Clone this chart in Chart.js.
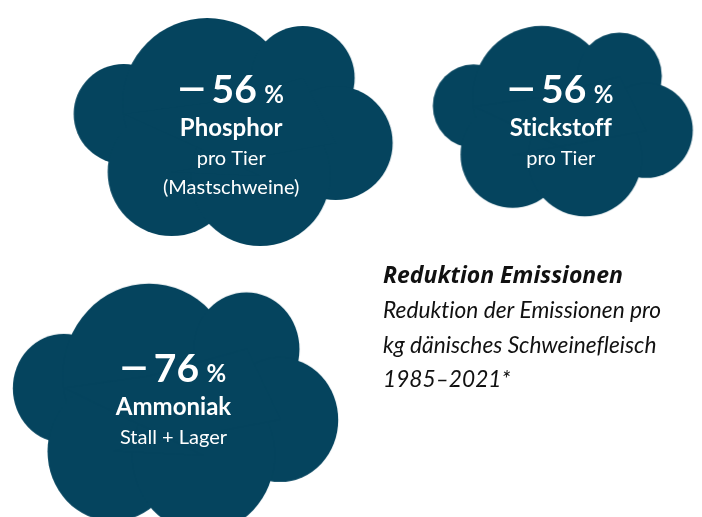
<!DOCTYPE html>
<html><head><meta charset="utf-8">
<script src="https://cdn.jsdelivr.net/npm/chart.js@4/dist/chart.umd.min.js"></script>
<style>html,body{margin:0;padding:0;background:#fff;overflow:hidden}#wrap{position:relative;width:702px;height:517px}</style>
</head><body><div id="wrap"><canvas id="c" width="702" height="517"></canvas></div>
<script>
// ---- data ----
const categories = ['Phosphor', 'Stickstoff', 'Ammoniak'];
const reductionPct = [-56, -56, -76];
const subLabels = [['pro Tier', '(Mastschweine)'], ['pro Tier'], ['Stall + Lager']];
const titleText = 'Reduktion Emissionen';
const noteLines = ['Reduktion der Emissionen pro', 'kg dänisches Schweinefleisch', '1985–2021*'];

// ---- layout (positions / sizes, not data) ----
const cloudX = [232.5, 564, 174.5];
const cloudY = [131, 120, 409];
const cloudScaleX = [1, 0.815, 1.02];
const cloudScaleY = [1, 0.835, 1.09];
const cloudColor = '#05445e';
const FONT = 'Lato, "Open Sans", sans-serif';

// cloud shape template: lobes [dx, dy, r] relative to the cloud centre
const cloudLobes = [[-109.5,-18,50],[-26,-29,85],[69.5,-54,52],[102.5,11,57],[-61.5,40,64],[27,44,70]];
function makeCloud(sx, sy) {
  const w = Math.ceil(324 * sx), h = Math.ceil(234 * sy);
  const cv = document.createElement('canvas');
  cv.width = w; cv.height = h;
  const g = cv.getContext('2d');
  g.fillStyle = cloudColor;
  g.translate(w / 2, h / 2);
  cloudLobes.forEach(([x, y, r]) => {
    g.beginPath(); g.ellipse(x * sx, y * sy, r * sx, r * sy, 0, 0, Math.PI * 2); g.fill();
  });
  g.beginPath();
  cloudLobes.forEach(([x, y], i) => { i ? g.lineTo(x * sx, y * sy) : g.moveTo(x * sx, y * sy); });
  g.closePath(); g.fill();
  return cv;
}
const cloudImgs = cloudScaleX.map((sx, i) => makeCloud(sx, cloudScaleY[i]));

function ink(ctx, s) {
  const m = ctx.measureText(s);
  return { l: m.actualBoundingBoxLeft, r: m.actualBoundingBoxRight, w: m.actualBoundingBoxLeft + m.actualBoundingBoxRight,
           a: m.actualBoundingBoxAscent, d: m.actualBoundingBoxDescent };
}

const labelPlugin = {
  id: 'cloudLabels',
  afterDatasetsDraw(chart) {
    const ctx = chart.ctx;
    const meta = chart.getDatasetMeta(0);
    ctx.save();
    try { ctx.letterSpacing = '0.01px'; } catch (e) {}
    ctx.fillStyle = '#ffffff';
    ctx.textBaseline = 'alphabetic';
    ctx.textAlign = 'left';
    const numFont = 'bold 39px ' + FONT, pctFont = 'bold 24px ' + FONT;
    meta.data.forEach((pt, i) => {
      const cx = pt.x - 2;
      const n = subLabels[i].length;
      const yNum = pt.y - 18 - (n - 1) * 11 - (i === 2 ? 8 : 0);
      const v = reductionPct[i];
      const sign = v < 0 ? '\u2212' : '+';
      const digits = String(Math.abs(v));
      const sx = 1.35;
      ctx.font = numFont;
      const iS = ink(ctx, sign), iD = ink(ctx, digits);
      ctx.font = pctFont;
      const iP = ink(ctx, '%');
      const g1 = 9, g2 = 8;
      const total = iS.w * sx + g1 + iD.w + g2 + iP.w;
      let x = cx - total / 2;
      ctx.font = numFont;
      const midS = (iS.a - iS.d) / 2;
      ctx.save(); ctx.translate(x, yNum - 14 + midS); ctx.scale(sx, 1); ctx.fillText(sign, iS.l, 0); ctx.restore();
      x += iS.w * sx + g1;
      ctx.fillText(digits, x + iD.l, yNum);
      x += iD.w + g2;
      ctx.font = pctFont;
      ctx.fillText('%', x + iP.l, yNum);
      ctx.textAlign = 'center';
      ctx.font = 'bold 24px ' + FONT;
      ctx.fillText(categories[i], cx, yNum + 33);
      ctx.font = '20px ' + FONT;
      subLabels[i].forEach((s, j) => ctx.fillText(s, cx, yNum + 62 + j * 29));
      ctx.textAlign = 'left';
    });
    // caption
    ctx.fillStyle = '#111111';
    ctx.textAlign = 'left';
    ctx.font = 'italic bold 23px "Open Sans", Lato, sans-serif';
    ctx.fillText(titleText, 383, 283);
    ctx.font = 'italic 22.7px ' + FONT;
    noteLines.forEach((s, j) => ctx.fillText(s, 383, 318 + j * 34.5));
    ctx.restore();
  }
};

new Chart(document.getElementById('c'), {
  type: 'scatter',
  data: {
    labels: categories,
    datasets: [{
      data: categories.map((c, i) => ({ x: cloudX[i], y: cloudY[i] })),
      pointStyle: cloudImgs,
      pointRadius: 1,
      pointHoverRadius: 1,
      clip: false
    }]
  },
  options: {
    responsive: false,
    animation: false,
    events: [],
    layout: { padding: 0 },
    scales: {
      x: { type: 'linear', min: 0, max: 702, display: false },
      y: { type: 'linear', min: 0, max: 517, reverse: true, display: false }
    },
    plugins: { legend: { display: false }, tooltip: { enabled: false } }
  },
  plugins: [labelPlugin]
});
</script></body></html>
